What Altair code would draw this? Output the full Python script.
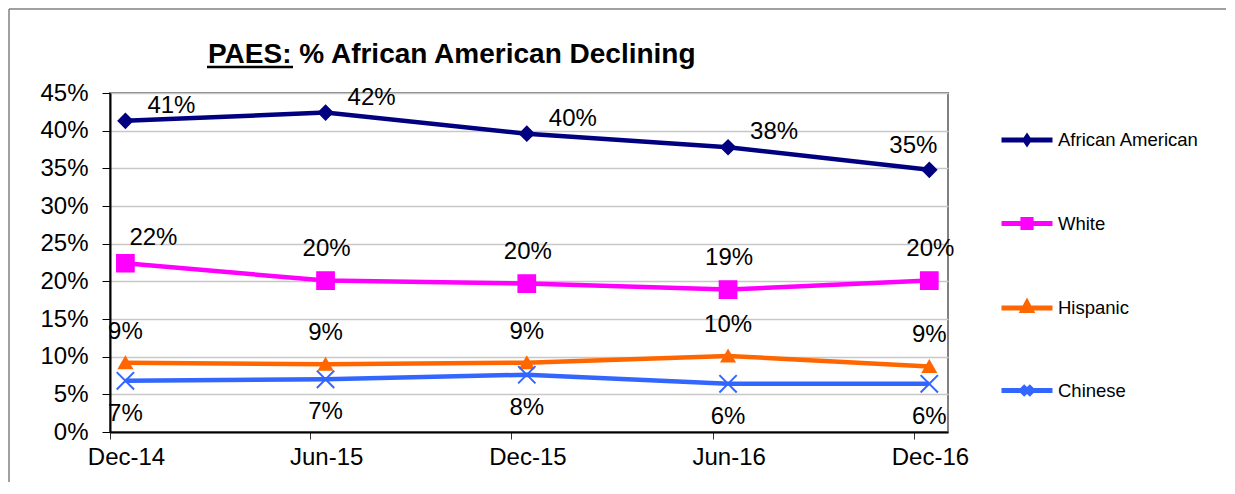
import altair as alt
import pandas as pd

# ---------------- data ----------------
period_dates = ["2014-12-15", "2015-06-15", "2015-12-15", "2016-06-15", "2016-12-15"]
series_names = ["African American", "White", "Hispanic", "Chinese"]
african_american = [41.3, 42.4, 39.6, 37.8, 34.8]
white = [22.4, 20.1, 19.7, 18.9, 20.1]
hispanic = [9.2, 9.0, 9.2, 10.1, 8.7]
chinese = [6.8, 7.0, 7.6, 6.4, 6.4]
x_tick_months = [(2014, 12), (2015, 6), (2015, 12), (2016, 6), (2016, 12)]
x_domain_months = [(2014, 12), (2017, 1)]
y_ticks = [0, 5, 10, 15, 20, 25, 30, 35, 40, 45]
title_text = "PAES: % African American Declining"

# ---------------- styles ----------------
colors = ["#000080", "#FF00FF", "#FF6600", "#3366FF"]
shapes = ["diamond", "square", "triangle-up", "M-1,-1L1,1M1,-1L-1,1"]
sizes = [190, 280, 160, 300]
legend_paths = [
    "M-1,0H1M0,-0.12L0.08,0L0,0.12L-0.08,0Z",
    "M-1,0H1M-0.16,-0.16H0.16V0.16H-0.16Z",
    "M-1,0H1M-0.16,0.1L0.16,0.1L0,-0.2Z",
    "M-1,0H1M-0.18,-0.18L0.18,0.18M0.18,-0.18L-0.18,0.18",
]
label_offsets = {
    "African American": (46, -15),
    "White": (1, -32),
    "Hispanic": (0, -31),
    "Chinese": (0, 33),
}
label_exceptions = {
    ("African American", "2016-12-15"): (-16, -24),
    ("White", "2014-12-15"): (28, -25),
}
FONT = "Liberation Sans"
LABEL_SIZE = 24

series_values = [african_american, white, hispanic, chinese]
rows = []
for name, vals in zip(series_names, series_values):
    for d, v in zip(period_dates, vals):
        rows.append({"date": d, "period": d, "series": name, "value": v})
df = pd.DataFrame(rows)


def dt(ym):
    return alt.DateTime(year=ym[0], month=ym[1], date=1, utc=True)


x_enc = alt.X(
    "date:T",
    scale=alt.Scale(type="utc", domain=[dt(m) for m in x_domain_months]),
    axis=alt.Axis(
        values=[dt(m) for m in x_tick_months],
        labelExpr="utcFormat(datum.value, '%b-%y')",
        title=None,
        grid=False,
        tickSize=7,
        tickColor="#333333",
        labelPadding=6,
        labelFlush=False,
        labelOffset=16,
    ),
)
y_enc = alt.Y(
    "value:Q",
    scale=alt.Scale(domain=[0, 45], nice=False, zero=True),
    axis=alt.Axis(
        values=y_ticks,
        labelExpr="datum.value + '%'",
        title=None,
        grid=True,
        gridColor="#c8c8c8",
        gridWidth=1.5,
        tickSize=8,
        tickColor="black",
        labelPadding=14,
    ),
)

shape_expr = "{" + ", ".join(
    f"'{n}': '{p}'" for n, p in zip(series_names, legend_paths)
) + "}[datum.value]"

legend = alt.Legend(
    orient="none",
    legendX=889,
    legendY=19,
    title=None,
    padding=0,
    labelFont=FONT,
    labelFontSize=18.5,
    labelColor="black",
    labelOffset=3,
    symbolSize=2601,
    symbolType={"expr": shape_expr},
    symbolFillColor={"expr": "scale('color', datum.value)"},
    symbolStrokeColor={"expr": "scale('color', datum.value)"},
    symbolStrokeWidth=5,
    symbolOpacity=1,
    rowPadding=41.5,
)

color_enc = alt.Color("series:N", scale=alt.Scale(domain=series_names, range=colors), legend=legend)

base = alt.Chart(df).transform_calculate(label="format(datum.value, '.0f') + '%'")

lines = base.mark_line(strokeWidth=4.5).encode(x=x_enc, y=y_enc, color=color_enc)

point_layers = []
for s, c, shp, sz in zip(series_names, colors, shapes, sizes):
    point_layers.append(
        base.mark_point(
            filled=True, opacity=1, strokeWidth=2, fill=c, stroke=c, shape=shp, size=sz
        )
        .encode(x=x_enc, y=y_enc)
        .transform_filter(f"datum.series == '{s}'")
    )

texts = []
exc_test = " || ".join(
    f"(datum.series == '{s}' && datum.period == '{d}')" for (s, d) in label_exceptions
)
for s in series_names:
    dx, dy = label_offsets[s]
    texts.append(
        base.mark_text(font=FONT, fontSize=LABEL_SIZE, color="black", dx=dx, dy=dy)
        .encode(x=x_enc, y=y_enc, text="label:N")
        .transform_filter(f"datum.series == '{s}' && !({exc_test})")
    )
for (s, d), (dx, dy) in label_exceptions.items():
    texts.append(
        base.mark_text(font=FONT, fontSize=LABEL_SIZE, color="black", dx=dx, dy=dy)
        .encode(x=x_enc, y=y_enc, text="label:N")
        .transform_filter(f"datum.series == '{s}' && datum.period == '{d}'")
    )

one = pd.DataFrame({"k": [0]})
border_top = alt.Chart(one).mark_rule(color="#808080", strokeWidth=1.5).encode(
    x=alt.value(-101), x2=alt.value(1116), y=alt.value(-84)
)
border_left = alt.Chart(one).mark_rule(color="#808080", strokeWidth=1.5).encode(
    x=alt.value(-101), y=alt.value(-84), y2=alt.value(389)
)
title_mark = alt.Chart(one).mark_text(
    font=FONT, fontSize=28, fontWeight="bold", color="black", align="left", baseline="alphabetic"
).encode(x=alt.value(98), y=alt.value(-30), text=alt.value(title_text))
underline = alt.Chart(one).mark_rule(color="black", strokeWidth=2.5).encode(
    x=alt.value(97), x2=alt.value(183), y=alt.value(-26)
)

chart = (
    alt.layer(border_top, border_left, lines, *point_layers, *texts, title_mark, underline)
    .properties(
        width=838,
        height=339,
        autosize=alt.AutoSizeParams(type="none"),
        padding={"left": 102, "top": 85, "right": 279, "bottom": 50},
        background="white",
    )
    .configure_view(stroke="#808080", strokeWidth=2)
    .configure_axis(
        domainColor="black",
        domainWidth=2,
        labelFont=FONT,
        labelFontSize=LABEL_SIZE,
        labelColor="black",
    )
)

chart.save("out.html", embed_options={"renderer": "svg", "actions": False})
